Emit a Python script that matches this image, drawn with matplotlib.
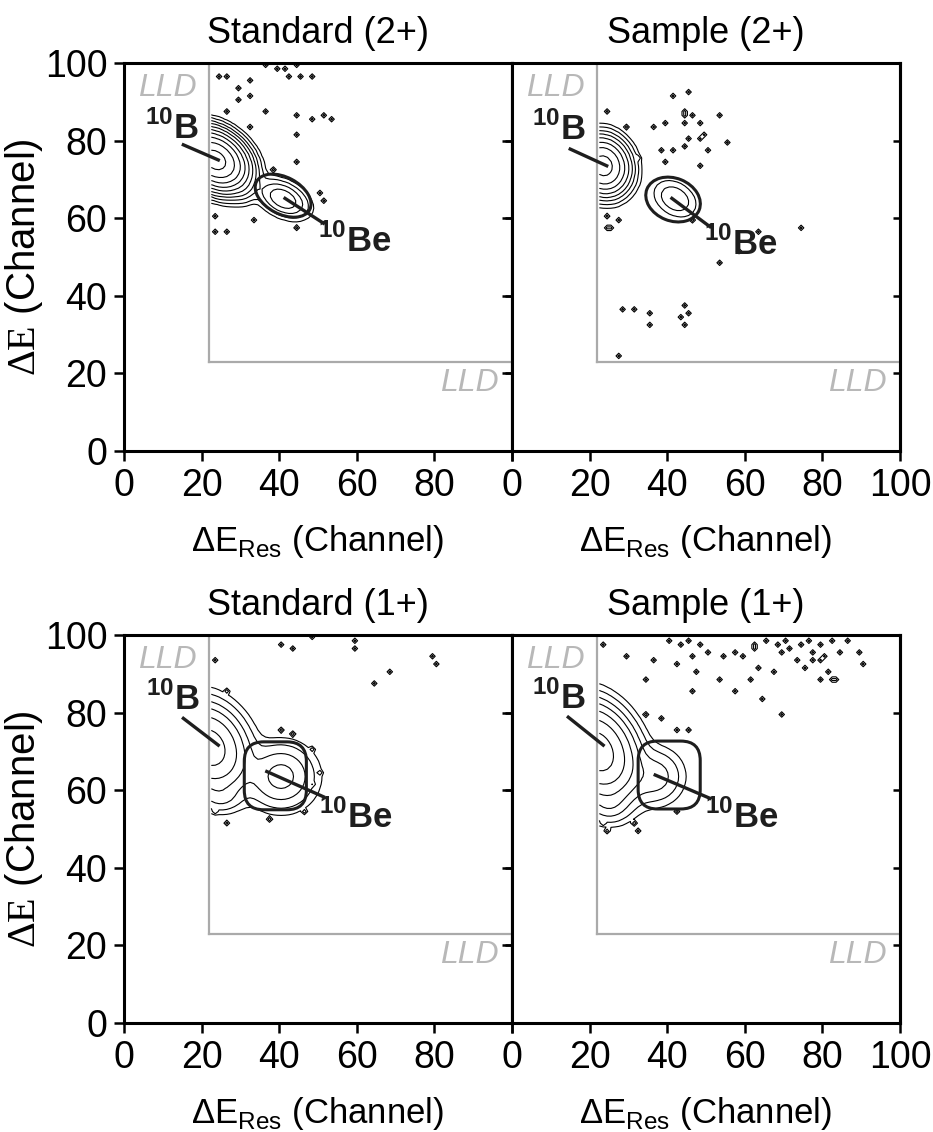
import numpy as np
import matplotlib
matplotlib.use('Agg')
import matplotlib.pyplot as plt
from matplotlib.patches import Ellipse, FancyBboxPatch

plt.rcParams['font.family'] = ['Liberation Sans', 'DejaVu Sans']
plt.rcParams['mathtext.fontset'] = 'custom'
plt.rcParams['mathtext.rm'] = 'Liberation Serif'
plt.rcParams['mathtext.sf'] = 'Liberation Sans'
plt.rcParams['mathtext.bf'] = 'Liberation Sans:bold'

# Panels: Standard (2+), Sample (2+), Standard (1+), Sample (1+)
titles = ['Standard (2+)', 'Sample (2+)', 'Standard (1+)', 'Sample (1+)']

# Peaks per panel: 10B, 10Be, weak extra cluster
peak_x = [[23.5, 41.0, 31.0], [23.5, 42.0, 30.0], [22.0, 40.5, 25.0], [22.0, 37.0, 25.0]]
peak_y = [[75.0, 65.0, 67.5], [73.5, 65.0, 68.0], [71.0, 63.5, 58.0], [70.0, 63.5, 56.0]]
peak_sx = [[3.5, 3.2, 2.0], [3.0, 3.0, 2.0], [4.8, 4.5, 3.0], [4.8, 3.8, 3.0]]
peak_sy = [[3.2, 2.4, 2.0], [3.3, 2.6, 2.0], [5.5, 4.3, 2.0], [5.8, 3.8, 2.5]]
peak_rho = [[-0.3, -0.4, 0.0], [-0.1, -0.3, 0.0], [-0.2, 0.0, 0.0], [-0.25, 0.0, 0.0]]
peak_amp = [[600, 12, 3], [150, 3, 0.0], [40, 9, 3], [80, 5, 4]]

# isolated counts (channel x, channel y)
speck_x_std2 = [24.7, 26.9, 32.0, 36.8, 39.3, 41.9, 42.8, 44.5, 45.8, 48.0, 29.0, 32.5, 29.0, 26.9,
                36.8, 44.1, 48.0, 51.8, 32.0, 44.9, 38.1, 44.9, 50.5, 51.0, 23.9, 23.9, 26.0, 33.8, 44.9, 53.0]
speck_y_std2 = [96.5, 96.0, 95.6, 99.1, 98.6, 98.6, 96.9, 99.1, 96.0, 96.0, 93.5, 91.3, 90.0, 87.0,
                87.0, 86.2, 85.3, 86.2, 83.6, 81.9, 72.8, 74.2, 66.0, 64.3, 60.8, 56.5, 56.5, 59.2, 57.4, 85.8]
speck_x_smp2 = [41.6, 45.9, 24.0, 29.1, 36.4, 39.9, 44.2, 44.6, 46.3, 44.2, 48.0, 49.3, 53.2, 38.1,
                41.6, 44.6, 48.9, 50.2, 55.3, 45.0, 39.0, 48.0, 32.6, 24.8, 27.0, 25.7, 24.0, 46.7,
                53.6, 58.8, 63.1, 74.7, 31.7, 35.6, 44.2, 45.0, 28.6, 35.6, 43.3, 44.8, 27.8]
speck_y_smp2 = [91.8, 92.2, 87.0, 83.1, 83.1, 84.8, 87.9, 86.2, 86.6, 84.0, 84.0, 81.9, 86.2, 77.6,
                77.2, 78.9, 80.2, 77.6, 79.4, 80.2, 74.1, 73.3, 75.0, 60.4, 59.2, 57.0, 57.0, 59.6,
                48.9, 51.0, 56.5, 57.4, 36.3, 35.4, 37.1, 35.8, 36.3, 32.5, 34.8, 32.5, 24.7]
speck_x_std1 = [40.1, 43.6, 48.4, 59.9, 59.1, 68.6, 64.7, 23.0, 26.0, 40.2, 43.2, 48.0, 50.1, 48.8,
                46.7, 37.2, 26.0, 23.9, 79.0, 80.5]
speck_y_std1 = [97.4, 96.6, 99.6, 98.3, 96.6, 90.6, 87.6, 93.1, 85.4, 75.9, 74.2, 70.0, 64.8, 61.3,
                54.4, 52.3, 51.4, 54.4, 94.5, 92.0]
speck_x_smp1 = [40.7, 43.3, 45.9, 48.5, 46.3, 50.2, 54.5, 57.9, 59.2, 62.2, 62.7, 65.6, 68.6, 69.5,
                70.8, 71.7, 74.3, 76.5, 79.5, 82.9, 84.6, 86.8, 89.8, 90.6, 77.8, 77.8, 79.5, 80.8,
                75.1, 81.2, 79.0, 82.0, 83.7, 73.4, 67.4, 63.1, 61.8, 53.6, 47.5, 42.8, 36.9, 34.7,
                29.4, 57.9, 64.7, 69.5, 46.7, 34.3, 23.1, 42.4, 45.0, 38.6, 31.7, 32.6, 42.4, 23.5, 24.0]
speck_y_smp1 = [98.7, 97.0, 98.7, 97.4, 94.8, 95.3, 94.8, 95.6, 94.5, 96.6, 97.9, 98.3, 97.4, 95.6,
                98.3, 96.0, 97.9, 98.3, 97.4, 98.3, 95.3, 98.7, 95.3, 92.8, 95.3, 93.6, 93.1, 94.8,
                91.5, 90.6, 88.9, 88.0, 88.5, 93.1, 90.6, 91.8, 88.0, 88.9, 90.2, 92.8, 93.3, 88.0,
                94.8, 85.8, 83.7, 79.8, 85.4, 79.8, 97.4, 75.1, 75.1, 78.5, 51.9, 49.0, 54.0, 51.9, 49.9]
speck_x = [speck_x_std2, speck_x_smp2, speck_x_std1, speck_x_smp1]
speck_y = [speck_y_std2, speck_y_smp2, speck_y_std1, speck_y_smp1]

# lower level discriminator (channel)
lld_x = 22.0
lld_y = 23.0

levels = [0.6, 1.5, 3.5, 7, 14, 28, 55, 110, 220, 440]

# 10Be gates
gate_kind = ['ellipse', 'ellipse', 'box', 'box']
gate_cx = [41.0, 41.5, 39.0, 40.5]
gate_cy = [65.8, 64.8, 63.7, 63.9]
gate_w = [15.5, 14.5, 16.0, 16.0]
gate_h = [9.5, 11.0, 17.5, 17.5]
gate_ang = [-28, -22, 0, 0]

# label positions: (text x, text y, line start, line end)
b_text = [(12.3, 83.3), (12.0, 83.0), (12.5, 83.5), (12.0, 83.7)]
b_line = [((15.3, 78.9), (24.3, 75.0)), ((15.0, 77.8), (24.4, 73.5)),
          ((15.3, 78.5), (24.3, 71.6)), ((14.5, 78.8), (23.5, 71.6))]
be_text = [(59.5, 54.0), (59.0, 53.2), (59.7, 53.0), (59.2, 53.0)]
be_line = [((41.5, 65.1), (51.4, 58.7)), ((41.2, 65.1), (51.0, 57.8)),
           ((36.8, 64.8), (51.4, 58.3)), ((36.9, 63.9), (51.0, 57.9))]


def make_counts(i):
    c = np.arange(100) + 0.5
    X, Y = np.meshgrid(c, c)
    Z = np.zeros_like(X)
    for x0, y0, sx, sy, r, a in zip(peak_x[i], peak_y[i], peak_sx[i], peak_sy[i],
                                    peak_rho[i], peak_amp[i]):
        dx = (X - x0) / sx
        dy = (Y - y0) / sy
        q = (dx ** 2 - 2 * r * dx * dy + dy ** 2) / (1 - r ** 2)
        Z += a * np.exp(-0.5 * q)
    for sx_, sy_ in zip(speck_x[i], speck_y[i]):
        Z[int(sy_), int(sx_)] += 2
    Z = np.ma.masked_where((X < lld_x) | (Y < lld_y), Z)
    return c, Z


fig = plt.figure(figsize=(9.33, 11.32), dpi=100)
lefts = [0.1329, 0.5488, 0.1329, 0.5488]
bottoms = [0.6016, 0.6016, 0.0963, 0.0963]
gray = '#aaaaaa'
ink = '#1e1e1e'

for i in range(4):
    ax = fig.add_axes([lefts[i], bottoms[i], 0.4159, 0.3428])
    c, Z = make_counts(i)
    ax.contour(c, c, Z, levels=levels, colors='black', linewidths=0.8)

    # LLD lines
    ax.plot([lld_x, lld_x], [lld_y, 100], color=gray, lw=1.6, zorder=1)
    ax.plot([lld_x, 100], [lld_y, lld_y], color=gray, lw=1.6, zorder=1)
    ax.text(11.2, 93.5, 'LLD', color='#b8b8b8', fontsize=23, style='italic',
            ha='center', va='center')
    ax.text(89.0, 17.4, 'LLD', color='#b8b8b8', fontsize=23, style='italic',
            ha='center', va='center')

    # gate
    if gate_kind[i] == 'ellipse':
        g = Ellipse((gate_cx[i], gate_cy[i]), gate_w[i], gate_h[i], angle=gate_ang[i],
                    fill=False, ec=ink, lw=2.2, zorder=4)
    else:
        g = FancyBboxPatch((gate_cx[i] - gate_w[i] / 2, gate_cy[i] - gate_h[i] / 2),
                           gate_w[i], gate_h[i], boxstyle='round,pad=0,rounding_size=5',
                           fill=False, ec=ink, lw=2.2, zorder=4)
    ax.add_patch(g)

    # labels
    (x1, y1), (x2, y2) = b_line[i]
    ax.plot([x1, x2], [y1, y2], color=ink, lw=2.4, zorder=5)
    ax.text(b_text[i][0], b_text[i][1], r'$^{\mathbf{10}}$B', fontsize=25, fontweight='bold',
            color=ink, ha='center', va='center', zorder=6)
    (x1, y1), (x2, y2) = be_line[i]
    ax.plot([x1, x2], [y1, y2], color=ink, lw=2.4, zorder=5)
    ax.text(be_text[i][0], be_text[i][1], r'$^{\mathbf{10}}$Be', fontsize=25, fontweight='bold',
            color=ink, ha='center', va='center', zorder=6)

    ax.set_xlim(0, 100)
    ax.set_ylim(0, 100)
    ax.set_xticks([0, 20, 40, 60, 80, 100])
    ax.set_yticks([0, 20, 40, 60, 80, 100])
    if i % 2 == 0:
        ax.set_xticklabels(['0', '20', '40', '60', '80', ''])
        ax.set_ylabel(r'$\mathrm{\Delta E}$ (Channel)', fontsize=29, labelpad=0)
    else:
        ax.set_xticklabels(['0', '20', '40', '60', '80', '100'])
        ax.set_yticklabels([])
    ax.tick_params(direction='out', length=7, width=1.8, labelsize=27, pad=5)
    sec = ax.secondary_yaxis('right')
    sec.set_yticks([20, 40, 60, 80])
    sec.tick_params(direction='in', length=5, width=1.8, labelright=False)
    for s in ax.spines.values():
        s.set_linewidth(2.2)
    sec.spines['right'].set_linewidth(2.2)

    ax.set_title(titles[i], fontsize=26, pad=14)
    ax.set_xlabel(r'ΔE$_{\mathsf{Res}}$ (Channel)', fontsize=25, labelpad=14)

fig.savefig('out.png', dpi=100)
